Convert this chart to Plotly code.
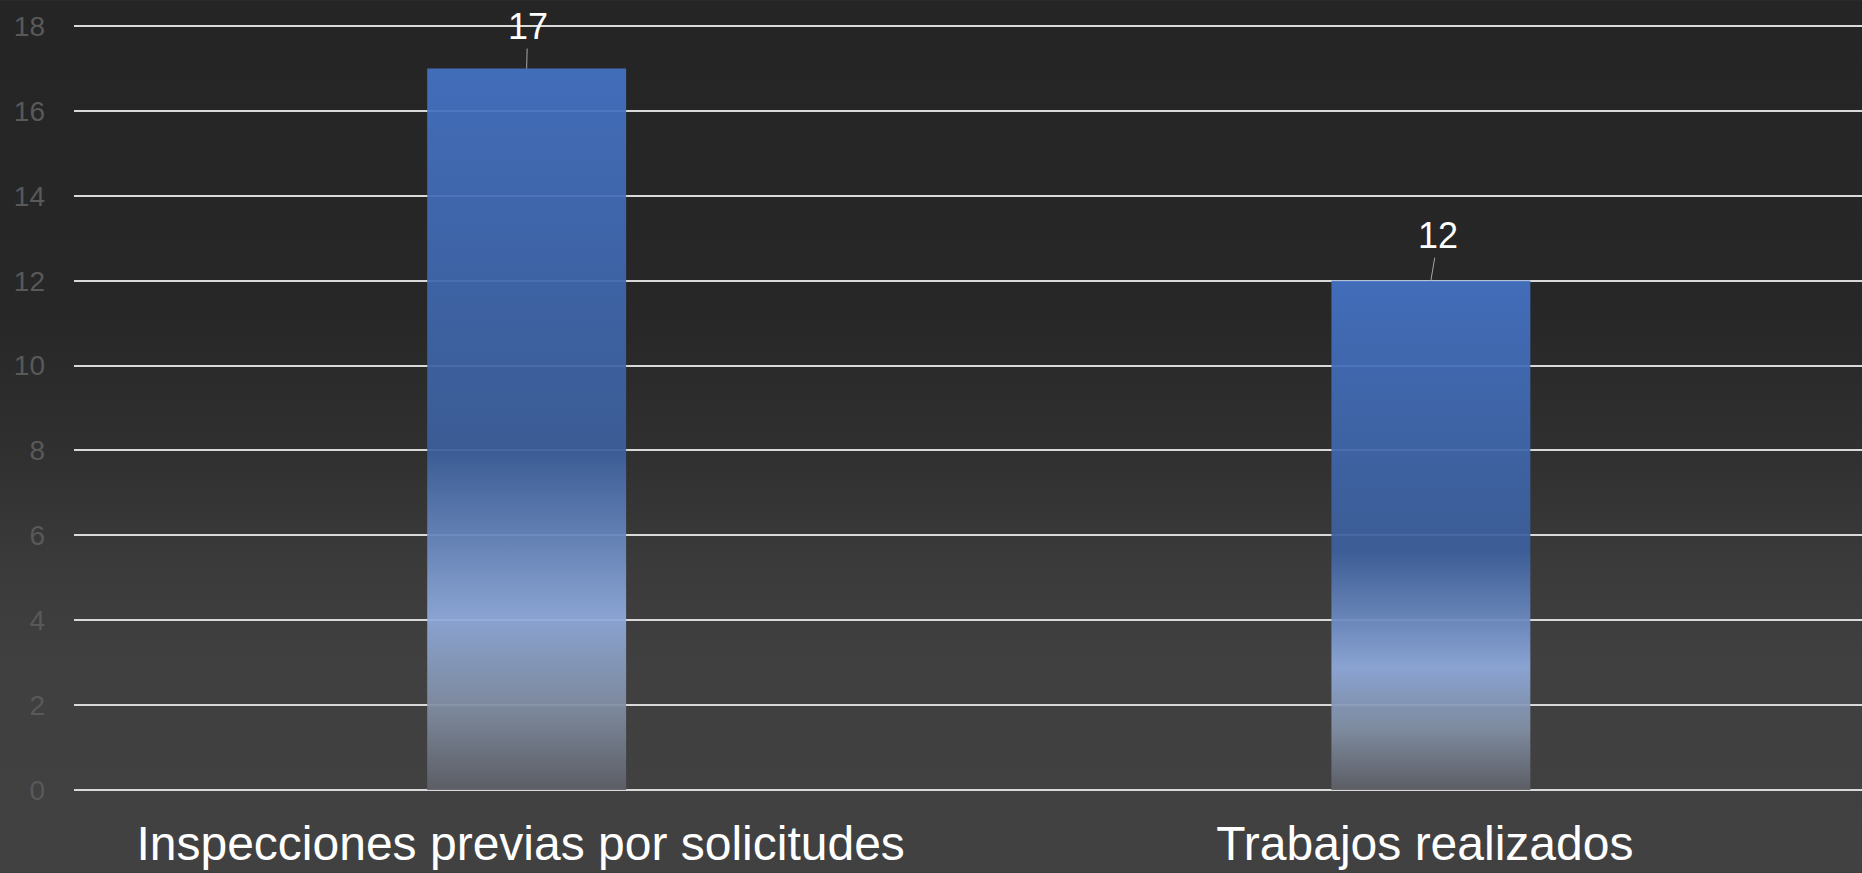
import base64
import plotly.graph_objects as go

# ---- data ----
categories = ["Inspecciones previas por solicitudes", "Trabajos realizados"]
values = [17, 12]
y_ticks = [0, 2, 4, 6, 8, 10, 12, 14, 16, 18]

# ---- figure geometry (pixels) ----
W, H = 1862, 873
PPU = (790 - 26) / 18.0
Y_RANGE = [-0.05, 18.05]
M_L, M_R = 74, 0
M_T = 26 - 0.05 * PPU
M_B = H - (790 + 0.05 * PPU)
BAR_HALF = 0.11
X_RANGE = [-0.5006, 1.4768]

FONT = "Liberation Sans, Arial, sans-serif"

# gradient used inside each bar (0 = bottom of bar, 1 = top)
bar_scale = [
    [0.0, "#5e6067"],
    [0.12, "#8290a6"],
    [0.24, "#8faadc"],
    [0.47, "#3c5f9c"],
    [1.0, "#4472c4"],
]

fig = go.Figure()

for i, (cat, v) in enumerate(zip(categories, values)):
    xs = [i - BAR_HALF, i + BAR_HALF, i + BAR_HALF, i - BAR_HALF, i - BAR_HALF]
    ys = [0, 0, v, v, 0]
    fig.add_trace(go.Scatter(
        x=xs, y=ys, mode="lines", fill="toself",
        line=dict(width=0, color="rgba(0,0,0,0)"),
        fillgradient=dict(type="vertical", colorscale=bar_scale, start=0, stop=v),
        opacity=0.93, name=cat, showlegend=False, hoverinfo="skip",
    ))

label_offsets = [(1, -42), (7.5, -45)]
for i, v in enumerate(values):
    ax, ay = label_offsets[i]
    fig.add_annotation(
        x=i, y=v, text=str(v), showarrow=True, ax=ax, ay=ay,
        arrowhead=0, arrowwidth=1, arrowcolor="#a6a6a6", standoff=0,
        font=dict(family=FONT, size=36, color="#ffffff"),
    )

# background gradient as an SVG image
svg = (
    '<svg xmlns="http://www.w3.org/2000/svg" width="100" height="873" preserveAspectRatio="none">'
    '<defs><linearGradient id="g" x1="0" y1="0" x2="0" y2="1">'
    '<stop offset="0" stop-color="#252525"/>'
    '<stop offset="0.36" stop-color="#272727"/>'
    '<stop offset="0.52" stop-color="#303030"/>'
    '<stop offset="0.64" stop-color="#3a3a3a"/>'
    '<stop offset="0.76" stop-color="#404040"/>'
    '<stop offset="1" stop-color="#414141"/>'
    '</linearGradient></defs>'
    '<rect x="0" y="0" width="100" height="873" fill="url(#g)"/></svg>'
)
src = "data:image/svg+xml;base64," + base64.b64encode(svg.encode()).decode()
pw = W - M_L - M_R
ph = H - M_T - M_B
fig.add_layout_image(dict(
    source=src, xref="paper", yref="paper",
    x=-M_L / pw, y=1 + M_T / ph, sizex=W / pw, sizey=H / ph,
    xanchor="left", yanchor="top", sizing="stretch", layer="below",
))

fig.update_layout(
    width=W, height=H,
    margin=dict(l=M_L, r=M_R, t=M_T, b=M_B, pad=0),
    paper_bgcolor="#333333", plot_bgcolor="rgba(0,0,0,0)",
    template="none", showlegend=False,
    xaxis=dict(
        range=X_RANGE, tickmode="array",
        tickvals=list(range(len(categories))), ticktext=categories,
        showgrid=False, zeroline=False, showline=False, ticks="",
        tickfont=dict(family=FONT, size=48, color="#ffffff"),
        ticklabelstandoff=19, ticklabelshift=-6,
        automargin=False, fixedrange=True,
    ),
    yaxis=dict(
        range=Y_RANGE, tickmode="array", tickvals=y_ticks,
        ticktext=[str(t) for t in y_ticks],
        showgrid=True, gridcolor="#d9d9d9", gridwidth=1.5,
        zeroline=False, showline=False, ticks="",
        tickfont=dict(family=FONT, size=28, color="#595959"),
        ticklabelstandoff=28, automargin=False, fixedrange=True,
    ),
)

fig.write_html(
    "out.html",
    config={"displayModeBar": False},
    post_script="document.body.style.margin='0';document.body.style.overflow='hidden';",
)
